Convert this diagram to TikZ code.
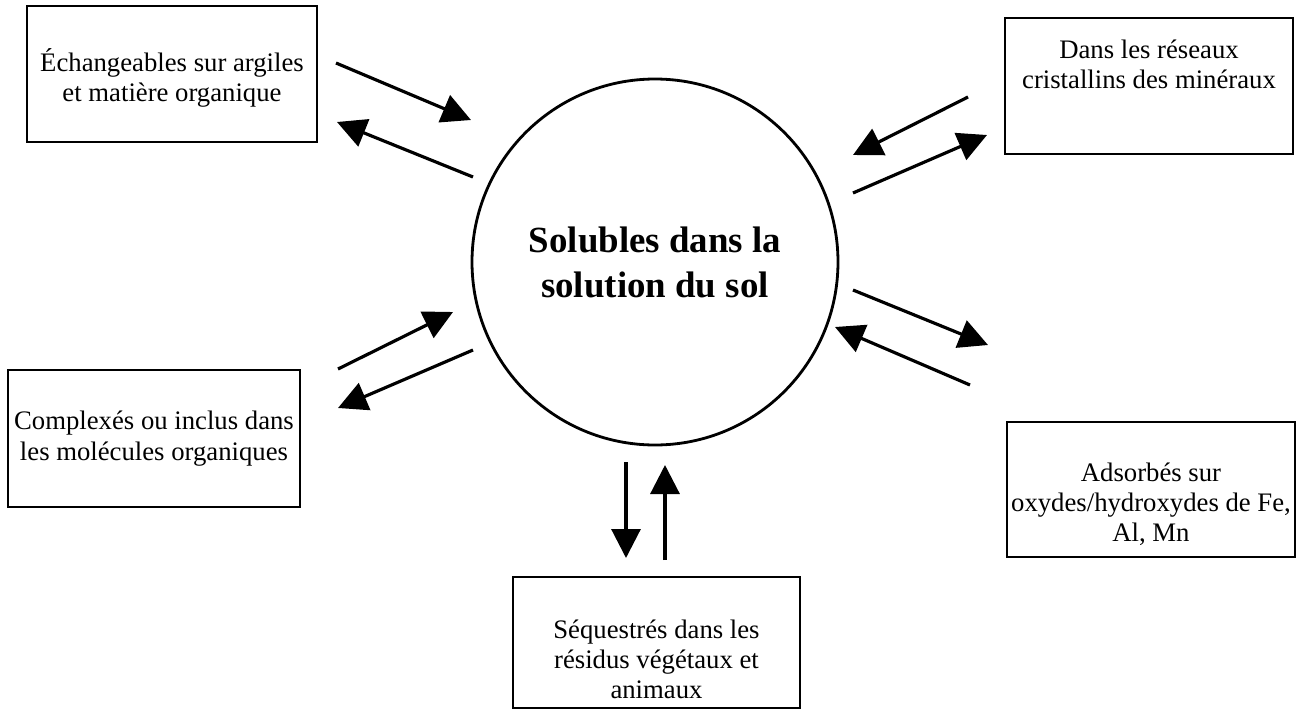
\documentclass[tikz,border=0pt]{standalone}
\usepackage{fontspec}
\setmainfont{Liberation Serif}
\usetikzlibrary{arrows.meta,positioning}

\tikzset{
  box/.style={draw, rectangle, line width=0.8pt, minimum width=2.9cm, minimum height=1.36cm, inner sep=0pt},
  txt/.style={align=center, font=\fontsize{7.6}{8.6}\selectfont},
  flow/.style={-{Triangle[length=2.9mm,width=2.9mm]}, line width=0.9pt},
}

\begin{document}
\begin{tikzpicture}
            \useasboundingbox (0,0) rectangle (13.07,7.12);

            \node[draw, circle, line width=0.8pt, minimum size=3.66cm, align=center,
                  font=\bfseries\fontsize{10.5}{12.8}\selectfont] (sol) at (6.55,4.50)
                  {Solubles dans la\\solution du sol};

            \node[box] (ech) at (1.72,6.38) {};
            \node[box, minimum width=2.88cm] (res) at (11.49,6.26) {};
            \node[box, minimum width=2.92cm, minimum height=1.37cm] (cpx) at (1.54,2.735) {};
            \node[box, minimum width=2.88cm, minimum height=1.35cm] (ads) at (11.51,2.225) {};
            \node[box, minimum width=2.87cm, minimum height=1.31cm] (seq) at (6.565,0.695) {};

            \node[txt, yshift=-0.4mm] (echtxt) at (ech) {Échangeables sur argiles\\et matière organique};
            \node[txt, yshift=2.2mm] (restxt) at (res) {Dans les réseaux\\cristallins des minéraux};
            \node[txt] (cpxtxt) at (cpx) {Complexés ou inclus dans\\les molécules organiques};
            \node[txt, yshift=-1.5mm] (adstxt) at (ads) {Adsorbés sur\\oxydes/hydroxydes de Fe,\\Al, Mn};
            \node[txt, yshift=-1.7mm] (seqtxt) at (seq) {Séquestrés dans les\\résidus végétaux et\\animaux};

            % arrow ends
            \coordinate (e1) at (3.36,6.49); \coordinate (e2) at (4.71,5.92);
            \coordinate (e3) at (4.73,5.35); \coordinate (e4) at (3.37,5.90);
            \coordinate (r1) at (9.68,6.15); \coordinate (r2) at (8.53,5.57);
            \coordinate (r3) at (8.53,5.19); \coordinate (r4) at (9.87,5.77);
            \coordinate (c1) at (3.38,3.43); \coordinate (c2) at (4.53,4.00);
            \coordinate (c3) at (4.73,3.62); \coordinate (c4) at (3.38,3.04);
            \coordinate (a1) at (8.53,4.22); \coordinate (a2) at (9.88,3.67);
            \coordinate (a3) at (9.70,3.27); \coordinate (a4) at (8.35,3.85);
            \coordinate (s1) at (6.26,2.50); \coordinate (s2) at (6.26,1.54);
            \coordinate (s3) at (6.65,1.52); \coordinate (s4) at (6.65,2.47);

            \foreach \a/\b in {e1/e2, e3/e4, r1/r2, r3/r4, c1/c2, c3/c4, a1/a2, a3/a4, s1/s2, s3/s4}
                \draw[flow] (\a) -- (\b);
\end{tikzpicture}
\end{document}
